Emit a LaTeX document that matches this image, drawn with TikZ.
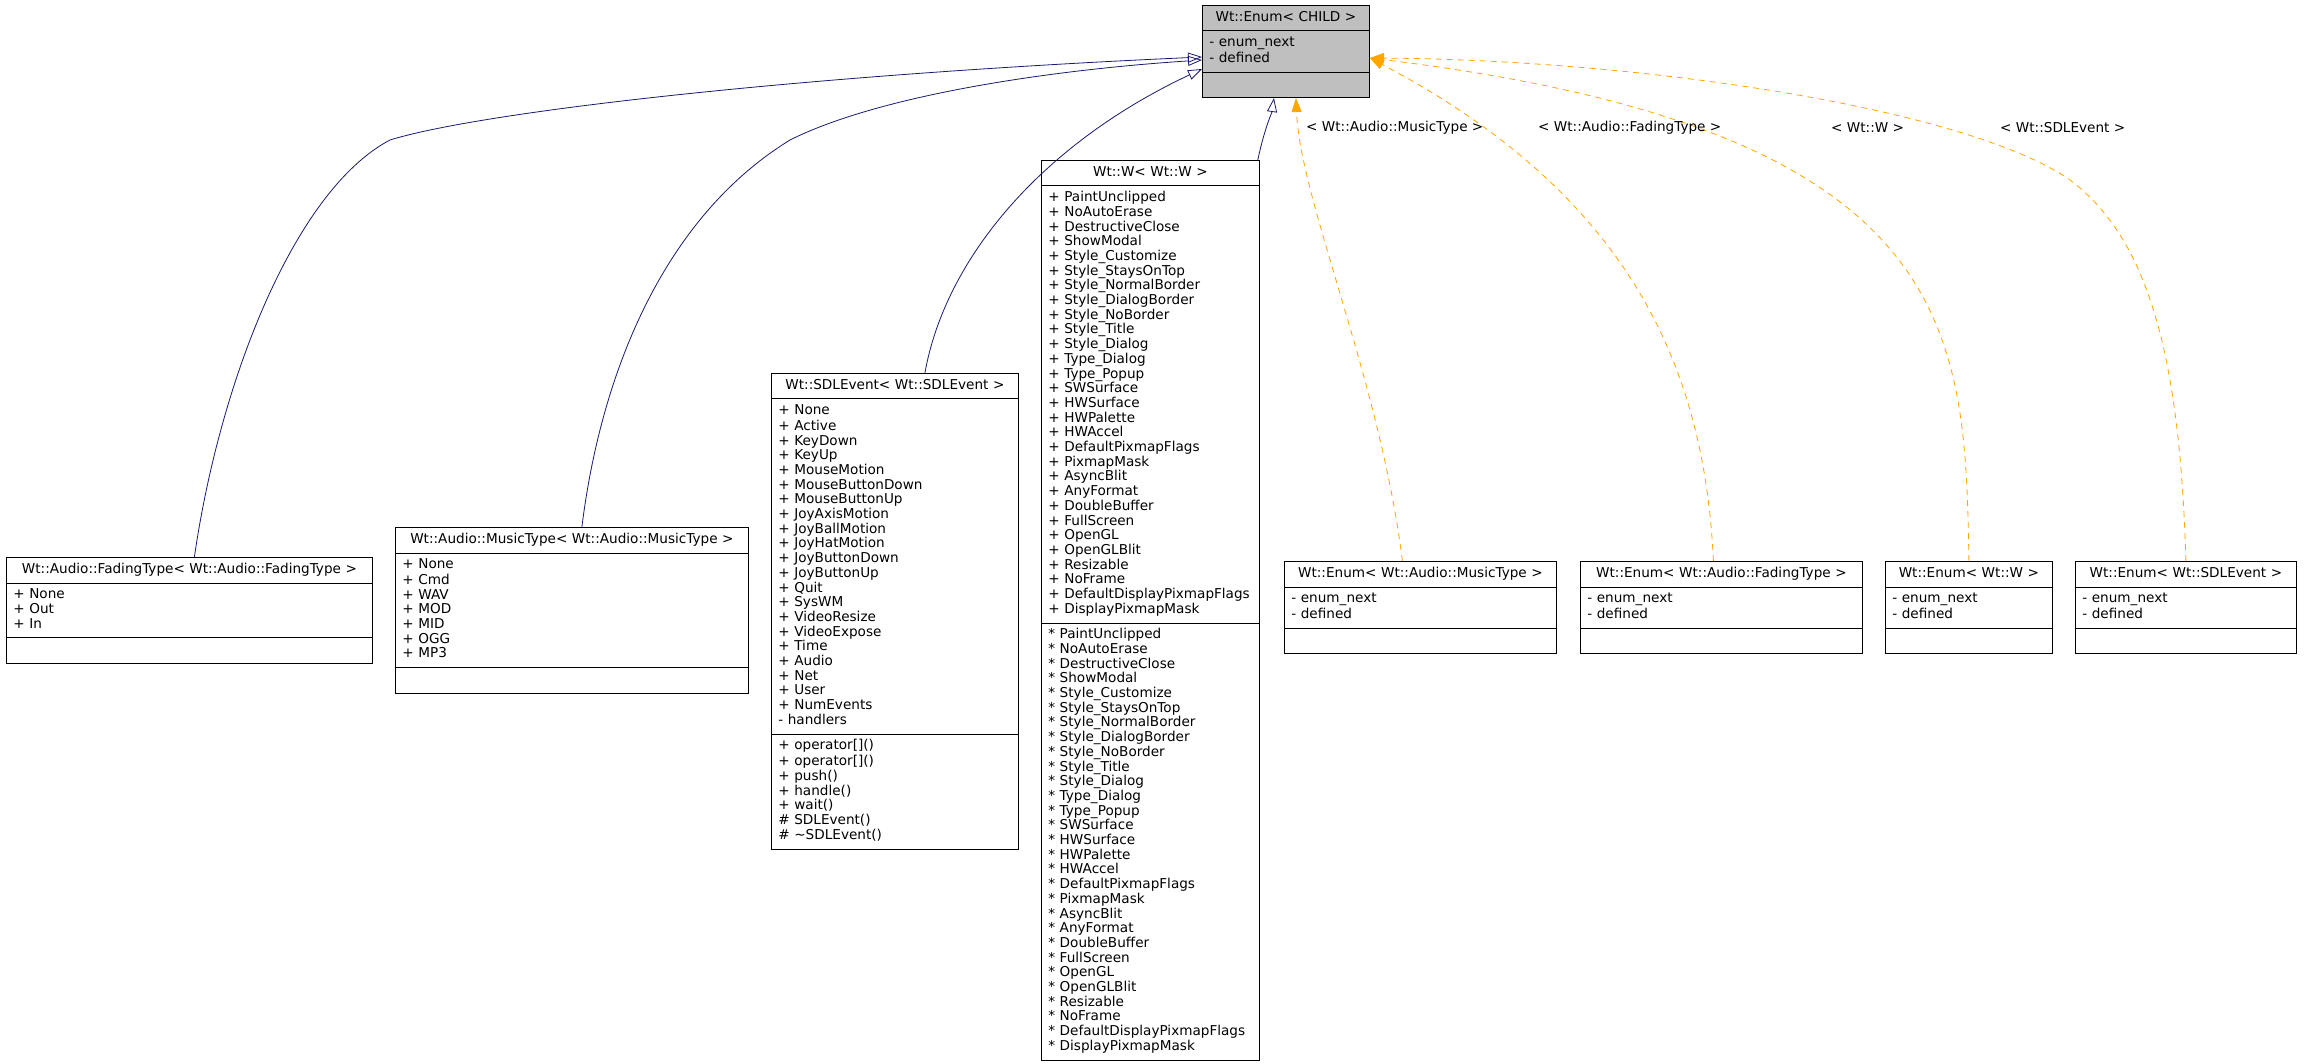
\documentclass[tikz,border=0pt]{standalone}
\usepackage{fontspec}
\setmainfont{DejaVu Sans}
\usetikzlibrary{shapes.multipart,arrows.meta,calc,positioning}

\definecolor{edgeblue}{HTML}{191970}
\definecolor{edgeorange}{HTML}{FFA500}
\definecolor{headgray}{HTML}{BFBFBF}

\tikzset{
  umlclass/.style={draw, rectangle split, rectangle split parts=3, anchor=north west,
    align=left, inner xsep=7pt, inner ysep=5pt, line width=0.8pt,
    font=\fontsize{13.6}{14.7}\selectfont},
  tmplclass/.style={umlclass, fill=headgray},
  inherit/.style={edgeblue, line width=0.8pt, -{Triangle[open,length=14pt,width=10pt]}},
  usage/.style={edgeorange, line width=0.8pt, dash pattern=on 6pt off 5pt,
    -{Triangle[length=14pt,width=10pt]}},
  lbl/.style={anchor=west, inner sep=0pt, font=\fontsize{13.6}{14.7}\selectfont},
}

% centred class title
\newcommand{\ctitle}[1]{\hspace*{\fill}\strut#1\strut\hspace*{\fill}\null}
% the flag list of Wt::W, with its prefix
\newcommand{\flaglist}[1]{\strut#1 PaintUnclipped\\{}#1 NoAutoErase\\{}#1 DestructiveClose\\{}#1 ShowModal\\{}%
  #1 Style\_Customize\\{}#1 Style\_StaysOnTop\\{}#1 Style\_NormalBorder\\{}#1 Style\_DialogBorder\\{}%
  #1 Style\_NoBorder\\{}#1 Style\_Title\\{}#1 Style\_Dialog\\{}#1 Type\_Dialog\\{}#1 Type\_Popup\\{}%
  #1 SWSurface\\{}#1 HWSurface\\{}#1 HWPalette\\{}#1 HWAccel\\{}#1 DefaultPixmapFlags\\{}#1 PixmapMask\\{}%
  #1 AsyncBlit\\{}#1 AnyFormat\\{}#1 DoubleBuffer\\{}#1 FullScreen\\{}#1 OpenGL\\{}#1 OpenGLBlit\\{}%
  #1 Resizable\\{}#1 NoFrame\\{}#1 DefaultDisplayPixmapFlags\\{}#1 DisplayPixmapMask\strut}

\begin{document}
\begin{tikzpicture}[x=1pt, y=-1pt]
  \useasboundingbox[fill=white] (0,0) rectangle (2319,1064);

  % base template
  \node[tmplclass, text width=153pt] (enumchild) at (1202,5)
    {\ctitle{Wt::Enum< CHILD >}
     \nodepart{second}\strut - enum\_next\\- defined\strut
     \nodepart{third}\strut};

  % derived classes
  \node[umlclass, text width=352pt] (fading) at (6,557)
    {\ctitle{Wt::Audio::FadingType< Wt::Audio::FadingType >}
     \nodepart{second}\strut + None\\+ Out\\+ In\strut
     \nodepart{third}\strut};
  \node[umlclass, text width=339pt] (music) at (395,527)
    {\ctitle{Wt::Audio::MusicType< Wt::Audio::MusicType >}
     \nodepart{second}\strut + None\\+ Cmd\\+ WAV\\+ MOD\\+ MID\\+ OGG\\+ MP3\strut
     \nodepart{third}\strut};
  \node[umlclass, text width=233pt] (sdlevent) at (771,373)
    {\ctitle{Wt::SDLEvent< Wt::SDLEvent >}
     \nodepart{second}\strut + None\\+ Active\\+ KeyDown\\+ KeyUp\\+ MouseMotion\\
       + MouseButtonDown\\+ MouseButtonUp\\+ JoyAxisMotion\\+ JoyBallMotion\\
       + JoyHatMotion\\+ JoyButtonDown\\+ JoyButtonUp\\+ Quit\\+ SysWM\\+ VideoResize\\
       + VideoExpose\\+ Time\\+ Audio\\+ Net\\+ User\\+ NumEvents\\- handlers\strut
     \nodepart{third}\strut + operator[]()\\+ operator[]()\\+ push()\\+ handle()\\
       + wait()\\\# SDLEvent()\\\# \textasciitilde SDLEvent()\strut};
  \node[umlclass, text width=204pt] (wbox) at (1041,160)
    {\ctitle{Wt::W< Wt::W >}
     \nodepart{second}\flaglist{+}
     \nodepart{third}\flaglist{*}};

  % instantiations
  \node[umlclass, text width=258pt] (enummusic) at (1284,561)
    {\ctitle{Wt::Enum< Wt::Audio::MusicType >}
     \nodepart{second}\strut - enum\_next\\- defined\strut
     \nodepart{third}\strut};
  \node[umlclass, text width=268pt] (enumfading) at (1580,561)
    {\ctitle{Wt::Enum< Wt::Audio::FadingType >}
     \nodepart{second}\strut - enum\_next\\- defined\strut
     \nodepart{third}\strut};
  \node[umlclass, text width=153pt] (enumw) at (1885,561)
    {\ctitle{Wt::Enum< Wt::W >}
     \nodepart{second}\strut - enum\_next\\- defined\strut
     \nodepart{third}\strut};
  \node[umlclass, text width=207pt] (enumsdl) at (2075,561)
    {\ctitle{Wt::Enum< Wt::SDLEvent >}
     \nodepart{second}\strut - enum\_next\\- defined\strut
     \nodepart{third}\strut};

  % arrow ends on the base box
  \coordinate (tipa) at ($(enumchild.north west)+(0,52)$);
  \coordinate (tipb) at ($(enumchild.north west)+(0,55)$);
  \coordinate (tipc) at ($(enumchild.north west)+(0,64)$);
  \coordinate (tipd) at ($(enumchild.south west)+(72,0)$);
  \coordinate (tipe) at ($(enumchild.south west)+(94,0)$);
  \coordinate (tipf) at ($(enumchild.north east)+(0,53)$);

  % inheritance
  \draw[inherit] ($(fading.north)+(5,0)$) .. controls (220,380) and (295,190) .. (390,140)
    .. controls (480,112) and (800,75) .. (tipa);
  \draw[inherit] ($(music.north)+(10,0)$) .. controls (600,380) and (660,220) .. (790,140)
    .. controls (880,95) and (1050,70) .. (tipb);
  \draw[inherit] ($(sdlevent.north)+(30,0)$) .. controls (945,260) and (1040,145) .. (tipc);
  \draw[inherit] ($(wbox.north east)+(-2,0)$) .. controls (1264,130) and (1272,112) .. (tipd);

  % template instantiation
  \draw[usage] ($(enummusic.north)+(-18,0)$) .. controls (1380,380) and (1300,200) .. (tipe);
  \draw[usage] ($(enumfading.north)+(-8,0)$) .. controls (1705,380) and (1640,200) .. (tipf);
  \draw[usage] (enumw.north) .. controls (1965,330) and (1960,130) .. (tipf);
  \draw[usage] (enumsdl.north) .. controls (2180,360) and (2150,240) .. (2070,180)
    .. controls (1970,110) and (1650,60) .. (tipf);

  \node[lbl] (lmusic) at (1306,128) {< Wt::Audio::MusicType >};
  \node[lbl] (lfading) at (1538,128) {< Wt::Audio::FadingType >};
  \node[lbl] (lw) at (1831,128) {< Wt::W >};
  \node[lbl] (lsdl) at (2000,128) {< Wt::SDLEvent >};
\end{tikzpicture}
\end{document}
